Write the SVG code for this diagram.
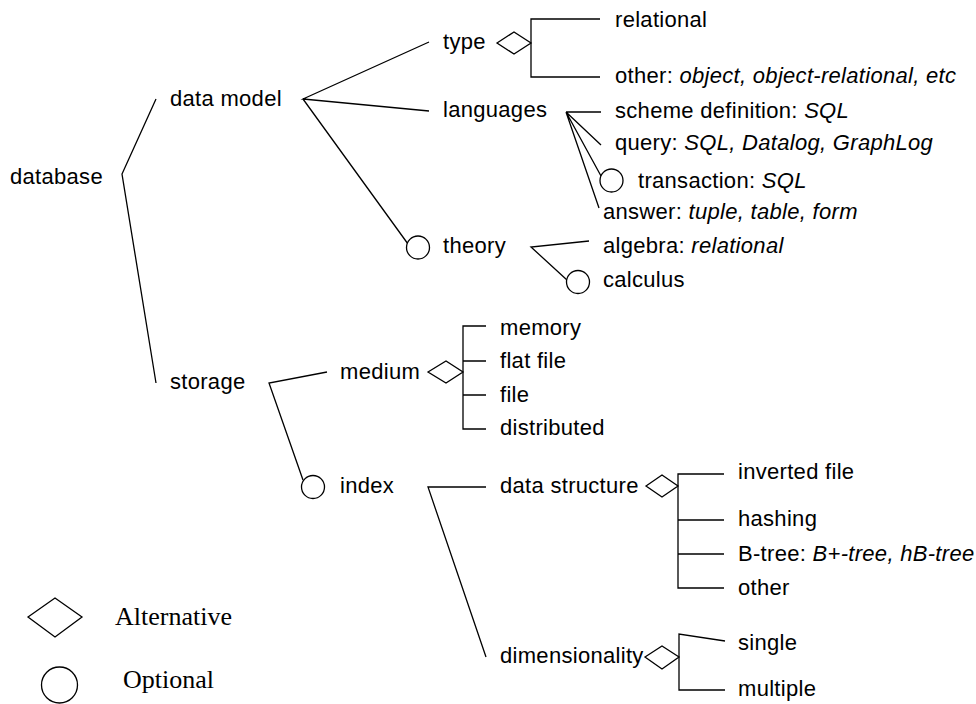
<svg xmlns="http://www.w3.org/2000/svg" width="976" height="704" viewBox="0 0 976 704">
<style>
text{font-family:"Liberation Sans",Arial,sans-serif;font-size:22px;letter-spacing:0.3px;fill:#000}
.i{font-style:italic}
.leg{font-family:"Liberation Serif","Times New Roman",serif;font-size:26px;letter-spacing:0}
.ln{fill:none;stroke:#000;stroke-width:1.3}
.sym{fill:#fff;stroke:#000;stroke-width:1.3}
</style>
<rect width="976" height="704" fill="#fff"/>
<g id="connectors" class="ln">
<path d="M156,99 L122,174 L156,383"/>
<path d="M429,42 L303,99 L429,111 M303,99 L408,244"/>
<path d="M600,19 H531 V77 H600"/>
<path d="M566,112 H601 M566,112 L601,145 M566,112 L601,176 M566,112 L599,208"/>
<path d="M589,241 L531,247 L567,280"/>
<path d="M327,372 L269,383 L303,480"/>
<path d="M486,326 H463 V429 H486 M463,361 H486 M463,395 H486"/>
<path d="M486,487 H428 L486,657"/>
<path d="M724,474 H678 V588 H724 M678,520 H724 M678,554 H724"/>
<path d="M725,641 L679,634 V690 H725"/>
</g>
<g id="database"><text x="10" y="184">database</text></g>
<g id="data-model"><text x="170" y="106">data model</text></g>
<g id="storage"><text x="170" y="389">storage</text></g>
<g id="type"><text x="443" y="49">type</text><path class="sym" d="M497,43 L514,32 L531,43 L514,54 Z"/></g>
<g id="languages"><text x="443" y="117">languages</text></g>
<g id="theory"><circle class="sym" cx="418" cy="247.5" r="11.5"/><text x="443" y="253">theory</text></g>
<g id="relational"><text x="615" y="27">relational</text></g>
<g id="type-other"><text x="615" y="83">other: <tspan class="i">object, object-relational, etc</tspan></text></g>
<g id="scheme-definition"><text x="615" y="118">scheme definition: <tspan class="i">SQL</tspan></text></g>
<g id="query"><text x="615" y="150">query: <tspan class="i">SQL, Datalog, GraphLog</tspan></text></g>
<g id="transaction"><circle class="sym" cx="611.5" cy="180.5" r="11.5"/><text x="638" y="188">transaction: <tspan class="i">SQL</tspan></text></g>
<g id="answer"><text x="603" y="219">answer: <tspan class="i">tuple, table, form</tspan></text></g>
<g id="algebra"><text x="603" y="253">algebra: <tspan class="i">relational</tspan></text></g>
<g id="calculus"><circle class="sym" cx="578" cy="282" r="11.5"/><text x="603" y="287">calculus</text></g>
<g id="medium"><text x="340" y="379">medium</text><path class="sym" d="M428,372 L446,361 L463,372 L446,383 Z"/></g>
<g id="memory"><text x="500" y="335">memory</text></g>
<g id="flat-file"><text x="500" y="368">flat file</text></g>
<g id="file"><text x="500" y="402">file</text></g>
<g id="distributed"><text x="500" y="435">distributed</text></g>
<g id="index"><circle class="sym" cx="313" cy="487" r="11.5"/><text x="340" y="493">index</text></g>
<g id="data-structure"><text x="500" y="493">data structure</text><path class="sym" d="M646,486 L662,475 L678,486 L662,497 Z"/></g>
<g id="inverted-file"><text x="738" y="479">inverted file</text></g>
<g id="hashing"><text x="738" y="526">hashing</text></g>
<g id="b-tree"><text x="738" y="561">B-tree: <tspan class="i">B+-tree, hB-tree</tspan></text></g>
<g id="ds-other"><text x="738" y="595">other</text></g>
<g id="dimensionality"><text x="500" y="663">dimensionality</text><path class="sym" d="M645,657 L662,646 L679,657 L662,669 Z"/></g>
<g id="single"><text x="738" y="650">single</text></g>
<g id="multiple"><text x="738" y="696">multiple</text></g>
<g id="legend-alternative"><path class="sym" d="M28,617 L55,598 L82,617 L55,637 Z"/><text class="leg" x="115" y="625">Alternative</text></g>
<g id="legend-optional"><circle class="sym" cx="59.5" cy="685" r="18"/><text class="leg" x="123" y="688">Optional</text></g>
</svg>
